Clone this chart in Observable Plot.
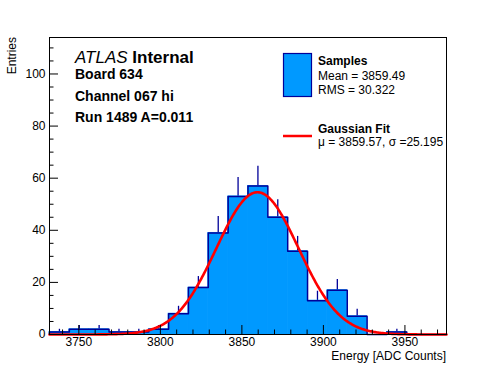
<!DOCTYPE html>
<html>
<head>
<meta charset="utf-8">
<script src="https://cdn.jsdelivr.net/npm/d3@7"></script>
<script src="https://cdn.jsdelivr.net/npm/@observablehq/plot@0.6"></script>
<style>
  html, body { margin: 0; padding: 0; background: #ffffff; }
  #chart { width: 496px; height: 372px; }
</style>
</head>
<body>
<div id="chart"></div>
<script>
// ---- data ----
const binLow = 3732;          // lower edge of histogram range
const binHigh = 3975.5;       // upper edge of histogram range
const counts = [1, 2, 2, 1, 1, 2, 8, 18, 39, 53, 57, 45, 32, 13, 17, 7, 0, 1, 0, 0];
const xTicks = [3750, 3800, 3850, 3900, 3950];
const yTicks = [0, 20, 40, 60, 80, 100];
const yTop = 114;
const fitMu = 3859.57;
const fitSigma = 25.195;
const fitAmp = 54.6;
const headerLines = ["Board 634", "Channel 067 hi", "Run 1489 A=0.011"];
const statsLines = ["Mean = 3859.49", "RMS = 30.322"];
const fitLine = "\u03bc = 3859.57, \u03c3 =25.195";

// ---- layout ----
const W = 496, H = 372;
const mL = 49, mR = 50, mT = 37, mB = 38;
const fill = "#0099ff", edge = "#000099", red = "#ff0000";
const plotW = W - mL - mR, plotH = H - mT - mB;
const pxPerX = plotW / (binHigh - binLow);
const pxPerY = plotH / yTop;

const nb = counts.length;
const bw = (binHigh - binLow) / nb;
const bins = counts.map((n, i) => ({x1: binLow + i * bw, x2: binLow + (i + 1) * bw, xc: binLow + (i + 0.5) * bw, n}));

// step outline of the histogram
const outline = [{x: binLow, y: 0}];
bins.forEach(b => { outline.push({x: b.x1, y: b.n}); outline.push({x: b.x2, y: b.n}); });
outline.push({x: binHigh, y: 0});

// fit curve sampled across the range
const fitCurve = d3.range(0, 401).map(i => {
  const x = binLow + (binHigh - binLow) * i / 400;
  return {x, y: fitAmp * Math.exp(-0.5 * ((x - fitMu) / fitSigma) ** 2)};
});

const errs = bins.filter(b => b.n > 0);

// axis tick marks (drawn inward, ROOT style)
const xMinor = d3.range(3740, binHigh, 10).filter(v => !xTicks.includes(v));
const yMinor = d3.range(5, yTop, 5).filter(v => !yTicks.includes(v));
const xMajLen = 9 / pxPerY, xMinLen = 4.5 / pxPerY;
const yMajLen = 9 / pxPerX, yMinLen = 4.5 / pxPerX;

const chart = Plot.plot({
  width: W, height: H,
  marginLeft: mL, marginRight: mR, marginTop: mT, marginBottom: mB,
  style: {fontFamily: "'Liberation Sans', Arial, Helvetica, sans-serif", fontSize: "12px", background: "#ffffff", color: "#000000", overflow: "visible"},
  x: {domain: [binLow, binHigh], ticks: xTicks, tickSize: 0, tickPadding: 3, tickFormat: d => String(d), label: null},
  y: {domain: [0, yTop], ticks: yTicks, tickSize: 0, tickPadding: 4, tickFormat: d => String(d), label: null},
  marks: [
    Plot.ruleX(errs, {x: "xc", y1: d => d.n - Math.sqrt(d.n), y2: d => d.n + Math.sqrt(d.n), stroke: edge, strokeWidth: 1.3}),
    Plot.rectY(bins, {x1: "x1", x2: "x2", y1: 0, y2: "n", fill: fill, stroke: fill, strokeWidth: 0.8}),
    Plot.line(outline, {x: "x", y: "y", stroke: edge, strokeWidth: 1.5}),
    Plot.line(fitCurve, {x: "x", y: "y", stroke: red, strokeWidth: 2.6}),
    Plot.ruleX(xTicks, {x: d => d, y1: 0, y2: xMajLen, stroke: "black", strokeWidth: 1}),
    Plot.ruleX(xMinor, {x: d => d, y1: 0, y2: xMinLen, stroke: "black", strokeWidth: 1}),
    Plot.ruleY(yTicks, {y: d => d, x1: binLow, x2: binLow + yMajLen, stroke: "black", strokeWidth: 1}),
    Plot.ruleY(yMinor, {y: d => d, x1: binLow, x2: binLow + yMinLen, stroke: "black", strokeWidth: 1}),
    Plot.frame({stroke: "black", strokeWidth: 1})
  ]
});

document.getElementById("chart").appendChild(chart);

// ---- annotations, axis titles, legend ----
const svg = d3.select(chart);
const g = svg.append("g")
  .attr("font-family", "'Liberation Sans', Arial, Helvetica, sans-serif")
  .attr("text-anchor", "start")
  .attr("fill", "black");

// axis titles
g.append("text").attr("x", 446).attr("y", 360).attr("text-anchor", "end").attr("font-size", 12).text("Energy [ADC Counts]");
g.append("text").attr("transform", "translate(16,37) rotate(-90)").attr("text-anchor", "end").attr("font-size", 12).text("Entries");

// ATLAS label
const t = g.append("text").attr("x", 75).attr("y", 63).attr("font-size", 17).attr("text-anchor", "start");
t.append("tspan").attr("font-style", "italic").text("ATLAS");
t.append("tspan").attr("font-weight", "bold").text(" Internal");
headerLines.forEach((s, i) => {
  g.append("text").attr("x", 75).attr("y", [79, 101, 122][i]).attr("text-anchor", "start").attr("font-size", 14).attr("font-weight", "bold").text(s);
});

// legend
g.append("rect").attr("x", 283.5).attr("y", 53.5).attr("width", 28).attr("height", 43).attr("fill", fill).attr("stroke", edge).attr("stroke-width", 1.2);
g.append("text").attr("x", 318).attr("y", 65).attr("text-anchor", "start").attr("font-size", 12).attr("font-weight", "bold").text("Samples");
statsLines.forEach((s, i) => {
  g.append("text").attr("x", 318).attr("y", [80, 94][i]).attr("text-anchor", "start").attr("font-size", 12).text(s);
});
g.append("line").attr("x1", 283).attr("x2", 312).attr("y1", 136).attr("y2", 136).attr("stroke", red).attr("stroke-width", 2.5);
g.append("text").attr("x", 318).attr("y", 133).attr("text-anchor", "start").attr("font-size", 12).attr("font-weight", "bold").text("Gaussian Fit");
g.append("text").attr("x", 318).attr("y", 146).attr("text-anchor", "start").attr("font-size", 12).text(fitLine);
</script>
</body>
</html>
